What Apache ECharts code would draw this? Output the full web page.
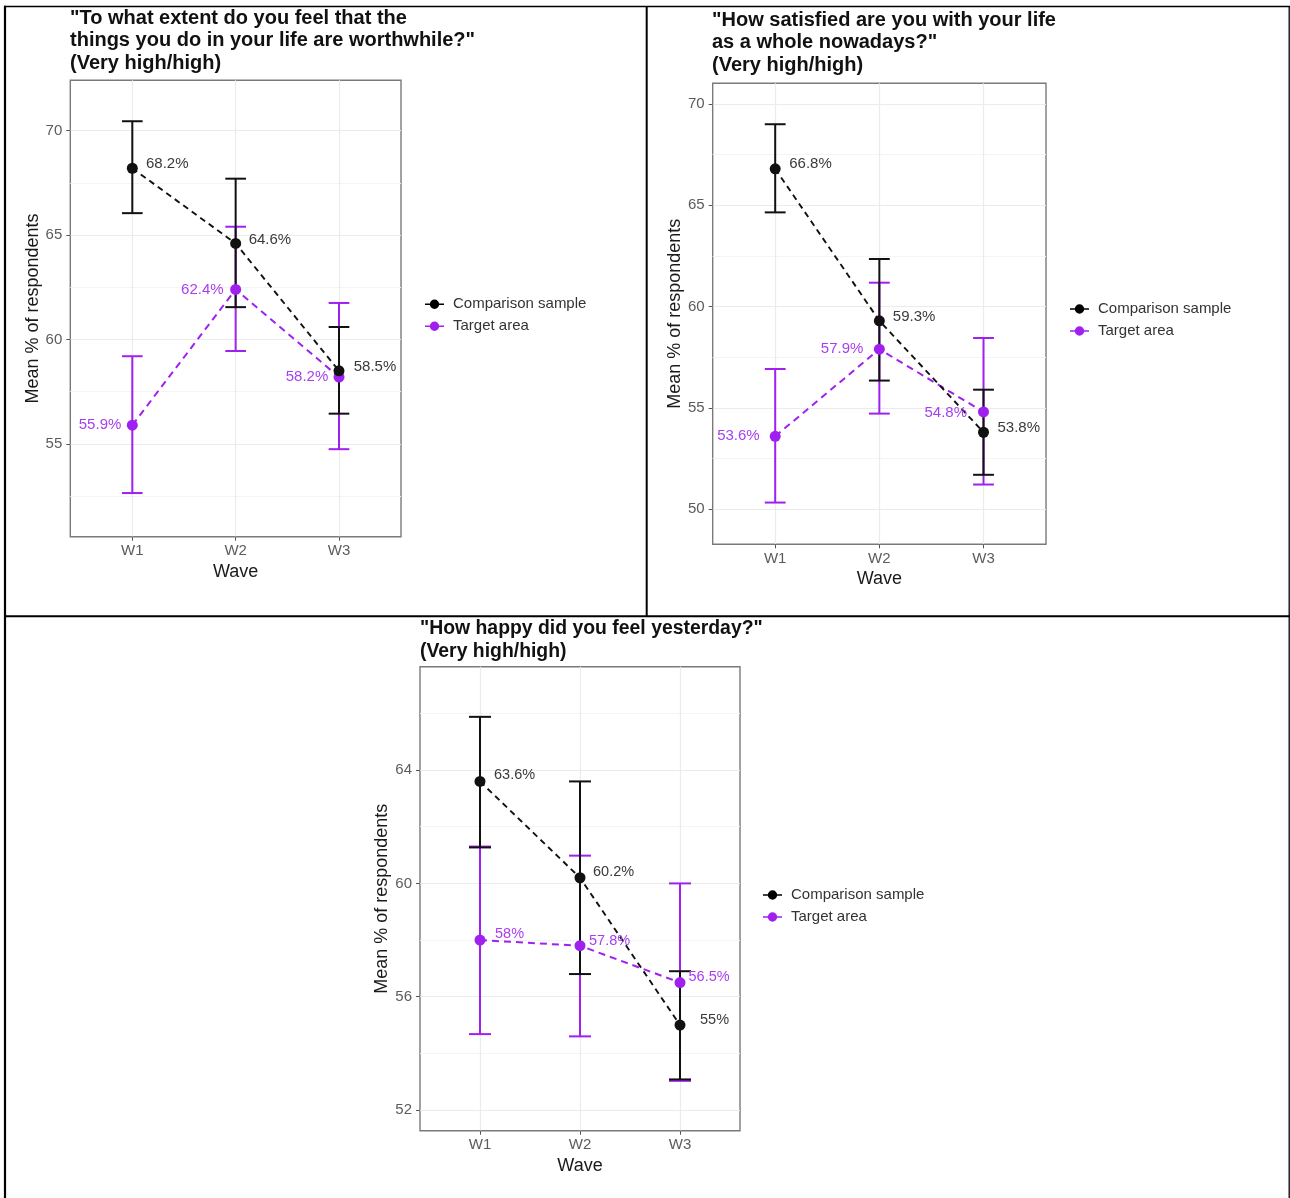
<!DOCTYPE html>
<html>
<head>
<meta charset="utf-8">
<script src="https://cdn.jsdelivr.net/npm/echarts@6/dist/echarts.min.js"></script>
<style>
html,body{margin:0;padding:0;background:#fff;}
#c{width:1290px;height:1198px;}
</style>
</head>
<body>
<div id="c"></div>
<script>
// ---------- DATA ----------
const waves = ['W1', 'W2', 'W3'];
const seriesNames = ['Comparison sample', 'Target area'];

// Panel 1: worthwhile
const p1Title = ['"To what extent do you feel that the', 'things you do in your life are worthwhile?"', '(Very high/high)'];
const p1CompMean = [68.2, 64.6, 58.5];
const p1CompLow  = [66.05, 61.55, 56.45];
const p1CompHigh = [70.45, 67.7, 60.6];
const p1TargMean = [55.9, 62.4, 58.2];
const p1TargLow  = [52.65, 59.45, 54.75];
const p1TargHigh = [59.2, 65.4, 61.75];
const p1YTicks = [55, 60, 65, 70];

// Panel 2: life satisfaction
const p2Title = ['"How satisfied are you with your life', 'as a whole nowadays?"', '(Very high/high)'];
const p2CompMean = [66.8, 59.3, 53.8];
const p2CompLow  = [64.65, 56.35, 51.7];
const p2CompHigh = [69.0, 62.35, 55.9];
const p2TargMean = [53.6, 57.9, 54.8];
const p2TargLow  = [50.33, 54.72, 51.22];
const p2TargHigh = [56.92, 61.18, 58.45];
const p2YTicks = [50, 55, 60, 65, 70];

// Panel 3: happiness
const p3Title = ['"How happy did you feel yesterday?"', '(Very high/high)'];
const p3CompMean = [63.6, 60.2, 55];
const p3CompLow  = [61.27, 56.8, 53.08];
const p3CompHigh = [65.88, 63.6, 56.9];
const p3TargMean = [58, 57.8, 56.5];
const p3TargLow  = [54.68, 54.6, 53.03];
const p3TargHigh = [61.3, 60.98, 60.0];
const p3YTicks = [52, 56, 60, 64];

const yAxisTitle = 'Mean % of respondents';
const xAxisTitle = 'Wave';

// ---------- STYLE / LAYOUT ----------
const FONT = '"Liberation Sans", Arial, sans-serif';
const COMP_COLOR = '#111111';
const TARG_COLOR = '#a020f0';
const COMP_LABEL = '#3a3a3a';
const TARG_LABEL = '#a83ef0';

const panels = [
  {
    title: p1Title, titlePos: {left: 70, top: 7}, titleSize: 20,
    grid: {left: 70.3, top: 80.3, width: 330.7, height: 456.4},
    yRange: [50.56, 72.41], yStep: 5, yTicks: p1YTicks,
    comp: {mean: p1CompMean, low: p1CompLow, high: p1CompHigh},
    targ: {mean: p1TargMean, low: p1TargLow, high: p1TargHigh},
    cap: 0.1, labelSize: 15,
    compNudge: {pos: 'right', v: [[8.2, -4.4], [7.5, -4], [9.2, -3.6]]},
    targNudge: {pos: 'left', v: [[5.5, 0], [6.5, 0], [5.2, 0]]},
    legendPos: {left: 425, top: 296.3},
    yNameGap: 28, xNameGap: 26
  },
  {
    title: p2Title, titlePos: {left: 712, top: 8.8}, titleSize: 20,
    grid: {left: 712.7, top: 83.3, width: 333.3, height: 461},
    yRange: [48.27, 71.02], yStep: 5, yTicks: p2YTicks,
    comp: {mean: p2CompMean, low: p2CompLow, high: p2CompHigh},
    targ: {mean: p2TargMean, low: p2TargLow, high: p2TargHigh},
    cap: 0.1, labelSize: 15,
    compNudge: {pos: 'right', v: [[8.5, -4.7], [8, -4], [8.5, -4.6]]},
    targNudge: {pos: 'left', v: [[10, 0], [10.5, 0], [11, 0.7]]},
    legendPos: {left: 1070, top: 301},
    yNameGap: 28, xNameGap: 26
  },
  {
    title: p3Title, titlePos: {left: 420, top: 617.5}, titleSize: 19.4,
    grid: {left: 420, top: 666.7, width: 320, height: 464},
    yRange: [51.27, 67.65], yStep: 4, yTicks: p3YTicks,
    comp: {mean: p3CompMean, low: p3CompLow, high: p3CompHigh},
    targ: {mean: p3TargMean, low: p3TargLow, high: p3TargHigh},
    cap: 0.11, labelSize: 14.5,
    compNudge: {pos: 'right', v: [[8.5, -6], [7.5, -6], [14.5, -5]]},
    targNudge: {pos: 'right', v: [[9.5, -6], [3.5, -5], [3, -6]]},
    legendPos: {left: 763, top: 887},
    yNameGap: 28, xNameGap: 26
  }
];

// ---------- BUILD ----------
const chart = echarts.init(document.getElementById('c'), null, {renderer: 'canvas'});

function errRendererCap(color, cap) {
  return function (params, api) {
    const x = api.value(0), lo = api.value(1), hi = api.value(2);
    const pLo = api.coord([x, lo]);
    const pHi = api.coord([x, hi]);
    const w = api.size([cap, 0])[0];
    const style = {stroke: color, lineWidth: 2, fill: null};
    return {
      type: 'group',
      children: [
        {type: 'line', shape: {x1: pLo[0], y1: pLo[1], x2: pHi[0], y2: pHi[1]}, style: style},
        {type: 'line', shape: {x1: pLo[0] - w, y1: pLo[1], x2: pLo[0] + w, y2: pLo[1]}, style: style},
        {type: 'line', shape: {x1: pHi[0] - w, y1: pHi[1], x2: pHi[0] + w, y2: pHi[1]}, style: style}
      ]
    };
  };
}

const grids = [], xAxes = [], yAxes = [], titles = [], legends = [], series = [];
const legendIcon = 'path://M0,4.2H5V5.8H0Z M14,4.2H19V5.8H14Z M14.2,5A4.7,4.7,0,1,1,4.8,5A4.7,4.7,0,1,1,14.2,5Z';
const xTickValues = waves.map(function (w, i) { return i + 1; });

panels.forEach(function (p, k) {
  grids.push(Object.assign({
    show: true, borderColor: '#7a7a7a', borderWidth: 1.4, backgroundColor: 'transparent',
    containLabel: false, outerBoundsMode: 'none'
  }, p.grid));

  xAxes.push({
    gridIndex: k, type: 'value', min: 0.4, max: 3.6, minInterval: 1, maxInterval: 1, splitNumber: 3,
    axisLine: {show: false},
    axisTick: {show: true, length: 4, customValues: xTickValues, lineStyle: {color: '#555', width: 1}},
    axisLabel: {
      show: true, margin: 7, fontSize: 15, color: '#5c5c5c', fontFamily: FONT,
      customValues: xTickValues,
      formatter: function (v) {
        const i = Math.round(v);
        return (Math.abs(v - i) < 1e-6 && waves[i - 1]) ? waves[i - 1] : '';
      }
    },
    splitLine: {show: true, lineStyle: {color: '#ebebeb', width: 1.2}},
    name: xAxisTitle, nameLocation: 'middle', nameGap: p.xNameGap,
    nameTextStyle: {fontSize: 18, color: '#1a1a1a', fontFamily: FONT}
  });

  yAxes.push({
    gridIndex: k, type: 'value', min: p.yRange[0], max: p.yRange[1],
    minInterval: p.yStep, maxInterval: p.yStep, splitNumber: 4,
    axisLine: {show: false},
    axisTick: {show: true, length: 4, customValues: p.yTicks, lineStyle: {color: '#555', width: 1}},
    axisLabel: {
      show: true, margin: 8, fontSize: 15, color: '#5c5c5c', fontFamily: FONT,
      customValues: p.yTicks,
      formatter: function (v) {
        for (const t of p.yTicks) { if (Math.abs(t - v) < 1e-6) return String(t); }
        return '';
      }
    },
    splitLine: {show: true, lineStyle: {color: '#ebebeb', width: 1.2}},
    minorTick: {show: false, splitNumber: 2},
    minorSplitLine: {show: true, lineStyle: {color: '#f4f4f4', width: 1}},
    name: yAxisTitle, nameLocation: 'middle', nameRotate: 90, nameGap: p.yNameGap,
    nameTextStyle: {fontSize: 18, color: '#1a1a1a', fontFamily: FONT}
  });

  titles.push({
    text: p.title.join('\n'), left: p.titlePos.left, top: p.titlePos.top, padding: 0,
    textStyle: {fontSize: p.titleSize, fontWeight: 'bold', lineHeight: 22.5, color: '#111', fontFamily: FONT}
  });

  legends.push({
    orient: 'vertical', left: p.legendPos.left, top: p.legendPos.top, padding: 0,
    itemWidth: 19, itemHeight: 10, itemGap: 6, selectedMode: false,
    textStyle: {fontSize: 15, color: '#333', lineHeight: 16, fontFamily: FONT, padding: [0, 0, 0, 4]},
    data: [
      {name: seriesNames[0], icon: legendIcon, itemStyle: {color: '#000'}},
      {name: seriesNames[1], icon: legendIcon, itemStyle: {color: TARG_COLOR}}
    ]
  });

  const groups = [
    {name: seriesNames[1], d: p.targ, color: TARG_COLOR, lcol: TARG_LABEL, nudge: p.targNudge, dash: [7, 5], lw: 2},
    {name: seriesNames[0], d: p.comp, color: COMP_COLOR, lcol: COMP_LABEL, nudge: p.compNudge, dash: [6, 4.5], lw: 1.9}
  ];

  // dashed connecting lines
  groups.forEach(function (g) {
    series.push({
      type: 'line', name: g.name, xAxisIndex: k, yAxisIndex: k,
      data: g.d.mean.map(function (v, i) { return [i + 1, v]; }),
      showSymbol: false, symbol: 'none', silent: true,
      lineStyle: {color: g.color, width: g.lw, type: g.dash},
      itemStyle: {color: g.color}, z: 2
    });
  });
  // error bars
  groups.forEach(function (g) {
    series.push({
      type: 'custom', name: g.name, xAxisIndex: k, yAxisIndex: k,
      data: g.d.low.map(function (lo, i) { return [i + 1, lo, g.d.high[i]]; }),
      encode: {x: 0, y: [1, 2]},
      renderItem: errRendererCap(g.color, p.cap),
      itemStyle: {color: g.color}, silent: true, z: 3
    });
  });
  // points with value labels
  groups.forEach(function (g) {
    series.push({
      type: 'scatter', name: g.name, xAxisIndex: k, yAxisIndex: k,
      symbol: 'circle', symbolSize: 11,
      itemStyle: {color: g.color, opacity: 1},
      z: 4, silent: true,
      data: g.d.mean.map(function (v, i) {
        const n = g.nudge.v[i];
        return {
          value: [i + 1, v],
          label: {
            show: true, position: g.nudge.pos, distance: n[0], offset: [0, n[1]],
            formatter: String(v) + '%',
            color: g.lcol, fontSize: p.labelSize, fontFamily: FONT
          }
        };
      })
    });
  });
});

const borders = [
  {x1: 4, y1: 6.5, x2: 1290, y2: 6.5, w: 1.3},
  {x1: 5, y1: 5.8, x2: 5, y2: 1198, w: 2.2},
  {x1: 646.7, y1: 6, x2: 646.7, y2: 617, w: 2},
  {x1: 4, y1: 616.3, x2: 1290, y2: 616.3, w: 2},
  {x1: 1289.2, y1: 6, x2: 1289.2, y2: 1198, w: 1.3}
];

const option = {
  animation: false,
  backgroundColor: '#ffffff',
  textStyle: {fontFamily: FONT},
  title: titles,
  legend: legends,
  grid: grids,
  xAxis: xAxes,
  yAxis: yAxes,
  series: series,
  graphic: borders.map(function (b) {
    return {type: 'line', silent: true, z: 100,
      shape: {x1: b.x1, y1: b.y1, x2: b.x2, y2: b.y2},
      style: {stroke: '#000', lineWidth: b.w}};
  })
};
chart.setOption(option);
</script>
</body>
</html>
